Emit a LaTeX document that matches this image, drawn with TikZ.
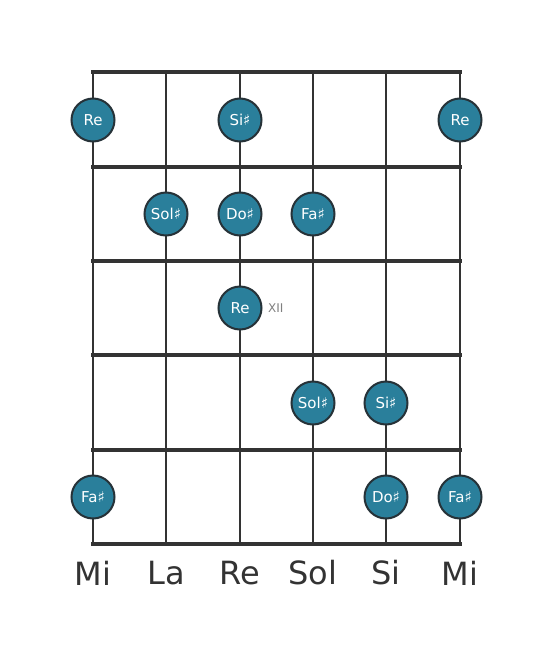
\documentclass[tikz,border=0pt]{standalone}
\usepackage{fontspec}
\setmainfont{DejaVu Sans}
\usetikzlibrary{positioning}
\definecolor{dotfill}{HTML}{2A7F9B}
\definecolor{dotline}{HTML}{263238}
\definecolor{wire}{HTML}{333333}
\tikzset{
  note/.style={circle, draw=dotline, line width=2pt, fill=dotfill,
    minimum size=43pt, inner sep=0pt, text=white,
    font=\fontsize{15}{15}\selectfont},
  fret/.style={wire, line width=4pt},
  gstring/.style={wire, line width=2.5pt},
  tuning/.style={text=wire, font=\fontsize{32}{32}\selectfont},
}
\begin{document}
\begin{tikzpicture}[x=1pt, y=-1pt]
  \useasboundingbox (0,0) rectangle (553,656);
  % strings
  \draw[gstring]
    (93,72) coordinate (s0) -- (93,544)
    (166,72) coordinate (s1) -- (166,544)
    (240,72) coordinate (s2) -- (240,544)
    (313,72) coordinate (s3) -- (313,544)
    (386,72) coordinate (s4) -- (386,544)
    (460,72) coordinate (s5) -- (460,544);
  % frets
  \draw[fret]
    (91,72) -- (462,72)
    (91,167) -- (462,167)
    (91,261) -- (462,261)
    (91,355) -- (462,355)
    (91,450) -- (462,450)
    (91,544) -- (462,544);
  % notes
  \draw
    (93,120) node[note] (re1){Re}
    (240,120) node[note] (si1){Si♯}
    (460,120) node[note] (re2){Re}
    (166,214) node[note] (sol1){Sol♯}
    (240,214) node[note] (do1){Do♯}
    (313,214) node[note] (fa1){Fa♯}
    (240,308) node[note] (re3){Re}
    (313,403) node[note] (sol2){Sol♯}
    (386,403) node[note] (si2){Si♯}
    (93,497) node[note] (fa2){Fa♯}
    (386,497) node[note] (do2){Do♯}
    (460,497) node[note] (fa3){Fa♯};
  \node[right=2pt of re3, text=gray, font=\fontsize{12}{12}\selectfont] (xii){XII};
  % tuning
  \draw
    (93,573) node[tuning] (t0){Mi}
    (166,573) node[tuning] (t1){La}
    (240,573) node[tuning] (t2){Re}
    (313,573) node[tuning] (t3){Sol}
    (386,573) node[tuning] (t4){Si}
    (460,573) node[tuning] (t5){Mi};
\end{tikzpicture}
\end{document}
